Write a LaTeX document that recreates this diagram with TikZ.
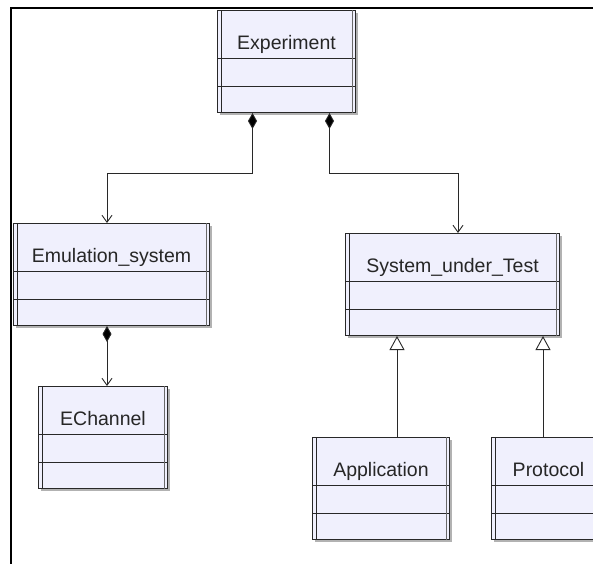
\documentclass[tikz,border=0pt]{standalone}
\usepackage{fontspec}
\setmainfont{Liberation Sans}
\usetikzlibrary{arrows.meta}
\definecolor{boxfill}{RGB}{240,240,253}
\definecolor{edgecol}{RGB}{40,40,40}
\tikzset{
  boxnode/.style={draw=edgecol, line width=1pt, fill=boxfill, rectangle, inner sep=0pt, anchor=north west},
  lbl/.style={anchor=base, inner sep=0pt, font=\fontsize{19.5}{22}\selectfont, text=black!85},
  conn/.style={draw=edgecol, line width=0.9pt},
  compo/.style={conn, {Diamond[length=16pt,width=9pt,fill=black]}-{Straight Barb[length=7pt,width=10pt]}},
  gen/.style={conn, -{Triangle[open,length=14pt,width=15pt,fill=white]}},
  framebar/.style={line width=1.6pt, draw=black}
}
\newcommand{\umlclass}[5]{%
  \fill[black!30] (#2+3,#3+3) rectangle ++(#4,102);
  \node[boxnode, minimum width=#4pt, minimum height=102pt] (#1) at (#2,#3) {};
  \draw[edgecol, line width=1pt] ([yshift=-48pt]#1.north west) -- ([yshift=-48pt]#1.north east);
  \draw[edgecol, line width=1pt] ([yshift=-76pt]#1.north west) -- ([yshift=-76pt]#1.north east);
  \draw[edgecol, line width=0.8pt] ([xshift=4pt]#1.north west) -- ([xshift=4pt]#1.south west);
  \draw[edgecol!70, line width=0.8pt] ([xshift=-4pt]#1.north east) -- ([xshift=-4pt]#1.south east);
  \node[lbl] (#1-t) at ([yshift=-39pt]#1.north) {#5};
}
\begin{document}
\begin{tikzpicture}[x=1pt,y=-1pt]
  \useasboundingbox (0,0) rectangle (593,563);
  \clip (0,0) rectangle (593,563);
  \draw[framebar] (594,8) -- (11,8) -- (11,564);
  \umlclass{exp}{217}{10}{138}{Experiment}
  \umlclass{emu}{13}{223}{196}{Emulation\_system}
  \umlclass{sut}{345}{233}{214}{System\_under\_Test}
  \umlclass{ech}{38}{386}{129}{EChannel}
  \umlclass{app}{312}{437}{137}{Application}
  \umlclass{prot}{491}{437}{114}{Protocol}
  \draw[compo] ([xshift=-34pt]exp.south) -- ++(0,60) -| ([xshift=94pt]emu.north west);
  \draw[compo] ([xshift=43pt]exp.south) -- ++(0,60) -| ([xshift=113pt]sut.north west);
  \draw[compo] ([xshift=94pt]emu.south west) -- ([xshift=69pt]ech.north west);
  \draw[gen] ([xshift=85pt]app.north west) -- ([xshift=52pt]sut.south west);
  \draw[gen] ([xshift=52pt]prot.north west) -- ([xshift=198pt]sut.south west);
\end{tikzpicture}
\end{document}
